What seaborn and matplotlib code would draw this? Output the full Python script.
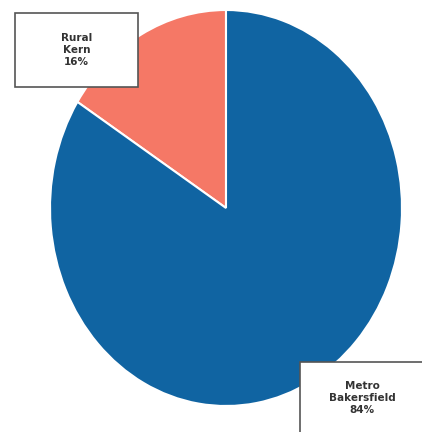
import matplotlib
matplotlib.use("Agg")
import matplotlib.pyplot as plt
from matplotlib.patches import Rectangle
import seaborn as sns

categories = ["Rural\nKern", "Metro\nBakersfield"]
shares = [16, 84]
colors = ["#f57866", "#1064a2"]

sns.set_style("white")
plt.rcParams['font.family'] = ['DejaVu Sans']

fig = plt.figure(figsize=(4.22, 4.32), dpi=100)
ax = fig.add_axes([50/422, 26/432, 352/422, 396/432])
ax.pie(shares, colors=colors, startangle=90, counterclock=True,
       wedgeprops=dict(edgecolor="white", linewidth=1.5))
ax.set_xlim(-1, 1)
ax.set_ylim(-1, 1)
ax.set_aspect("auto")
ax.axis("off")

boxes = [(15, 13, 123, 74), (300, 362, 124, 72)]
for (x, y, w, h), lab, val in zip(boxes, categories, shares):
    fx, fy = x/422, 1 - (y + h)/432
    fig.patches.append(Rectangle((fx, fy), w/422, h/432, transform=fig.transFigure,
                                 facecolor="white", edgecolor="#555555", linewidth=1.2))
    fig.text(fx + w/422/2, fy + h/432/2, f"{lab}\n{val}%", ha="center", va="center",
             fontsize=7.5, fontweight="bold", color="#333333", linespacing=1.3)

fig.savefig("out.png", dpi=100)
